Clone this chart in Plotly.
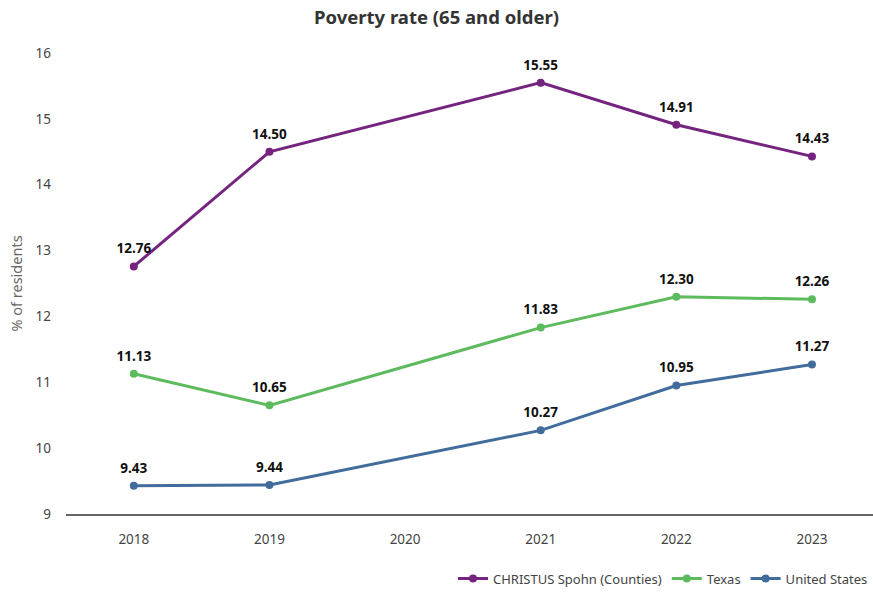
import plotly.graph_objects as go

years = ["2018", "2019", "2020", "2021", "2022", "2023"]
christus = [12.76, 14.50, None, 15.55, 14.91, 14.43]
texas = [11.13, 10.65, None, 11.83, 12.30, 12.26]
us = [9.43, 9.44, None, 10.27, 10.95, 11.27]

series = [
    ("CHRISTUS Spohn (Counties)", christus, "#74237F"),
    ("Texas", texas, "#5DBB5D"),
    ("United States", us, "#416C9C"),
]

FONT = "Noto Sans, Open Sans, sans-serif"

fig = go.Figure()
for name, vals, color in series:
    fig.add_trace(go.Scatter(
        x=years, y=vals, name=name, mode="lines+markers",
        connectgaps=True,
        line=dict(color=color, width=3),
        marker=dict(color=color, size=8),
        cliponaxis=False, hoverinfo="skip",
    ))
for name, vals, color in series:
    fig.add_trace(go.Scatter(
        x=years, y=vals, name=name, mode="markers+text", showlegend=False,
        marker=dict(color="rgba(0,0,0,0)", size=14),
        text=[f"<b>{v:.2f}</b>" if v is not None else "" for v in vals],
        textposition="top center",
        textfont=dict(family=FONT, size=13.5, color="#111111"),
        cliponaxis=False, hoverinfo="skip",
    ))

fig.update_layout(
    width=873, height=592,
    margin=dict(l=66, r=0, t=53, b=78, autoexpand=False),
    paper_bgcolor="white", plot_bgcolor="white",
    font=dict(family=FONT, color="#444444", size=13.5),
    title=dict(text="<b>Poverty rate (65 and older)</b>", x=0.5, xanchor="center",
               y=0.97, yanchor="middle", font=dict(size=18.5, color="#333333")),
    showlegend=True,
    legend=dict(orientation="h", x=1, xanchor="right", y=-0.14, yanchor="middle",
                font=dict(size=13, color="#444444"), traceorder="normal",
                itemwidth=30),
    xaxis=dict(type="category", range=[-0.5, 5.45], showgrid=False,
               showline=True, linecolor="#666666", linewidth=1.5,
               ticks="", ticklabelstandoff=12,
               tickfont=dict(size=13.5, color="#444444")),
    yaxis=dict(range=[9, 16], dtick=1, showgrid=False, zeroline=False,
               showline=False, ticks="", ticklabelstandoff=14,
               title=dict(text="% of residents", standoff=9,
                          font=dict(size=14.5, color="#666666")),
               tickfont=dict(size=13.5, color="#444444")),
)

fig.write_html("out.html", config={"displayModeBar": False},
               post_script="document.body.style.margin='0px';document.body.style.overflow='hidden';")
